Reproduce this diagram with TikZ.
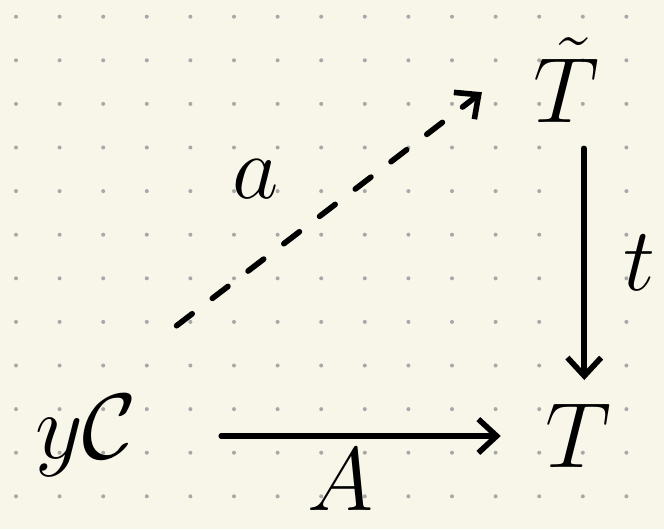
\RequirePackage{fix-cm}
\documentclass[tikz,border=0pt]{standalone}
\usetikzlibrary{arrows.meta,positioning}
\definecolor{paper}{HTML}{F8F5E9}
\definecolor{dotgray}{HTML}{A8A8A8}
\tikzset{
  obj/.style ={font=\fontsize{66}{72}\selectfont,inner sep=0pt},
  lbl/.style ={font=\fontsize{64}{70}\selectfont,inner sep=0pt},
  ar/.style  ={-{Straight Barb[length=13pt,width=24pt,line width=4pt]},
               line width=4pt,line cap=round},
}
\begin{document}
\begin{tikzpicture}[x=0.025cm,y=-0.025cm]
\fill[paper] (0,0) rectangle (664,529);
\useasboundingbox (0,0) rectangle (664,529);
% dot grid of the notebook page
\foreach \i in {0,...,14}
  \foreach \j in {0,...,11}
    \fill[dotgray] (16+43.6*\i,16.7+43.6*\j) circle (2);
\node[obj] (yC) at (86,436) {$y\mathcal{C}$};
\node[obj] (T) at (578,436) {$T$};
\node[obj] (Tt) at (566,80) {$\tilde{T}$};
\draw[ar,shorten <=2.1cm,shorten >=1.1cm] (yC.east) -- (yC.east -| T.west)
  node[lbl,pos=0.5,below=7pt] (lA) {$A$};
\draw[ar,shorten <=0.65cm,shorten >=0.6cm] ([xshift=13pt]Tt.south) -- ([xshift=13pt]Tt.south |- T.north)
  node[lbl,midway,right=26pt] (lt) {$t$};
\draw[ar,dashed,dash pattern=on 14pt off 18pt,shorten <=2.85cm,shorten >=1.6cm]
  (yC.north) -- ([yshift=19pt]Tt.west)
  node[lbl,pos=0.42,above=36pt,xshift=-13pt] (la) {$a$};
\end{tikzpicture}
\end{document}
